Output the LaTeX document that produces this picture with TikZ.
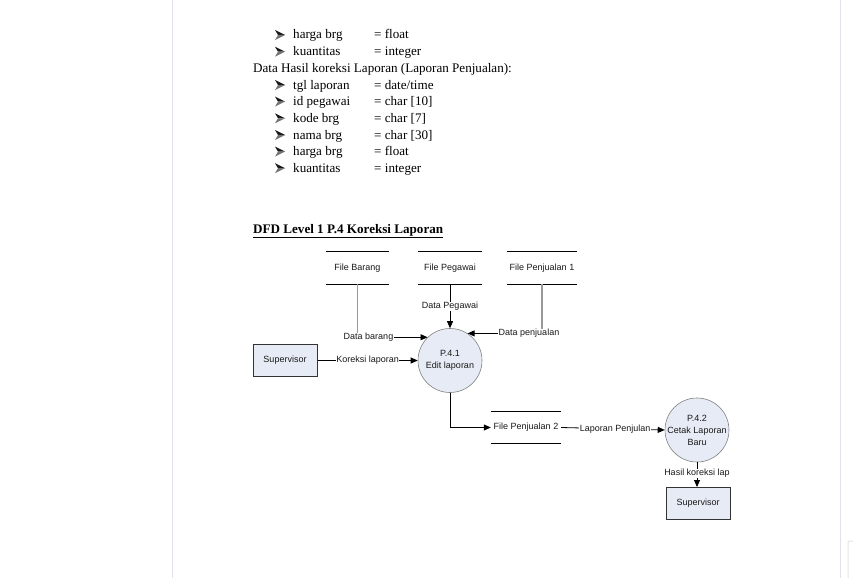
\documentclass[tikz,border=0pt]{standalone}
\usepackage{fontspec}
\setmainfont{Liberation Serif}
\setsansfont{Liberation Sans}
\usetikzlibrary{arrows.meta}
\definecolor{procfill}{HTML}{E7EBF5}
\definecolor{pageline}{HTML}{E2E2EC}
\begin{document}
\begin{tikzpicture}[x=1pt,y=-1pt,
  body/.style={font=\fontsize{13.1}{15}\selectfont, inner sep=0pt, anchor=base west},
  bul/.style={minimum width=10pt, minimum height=10pt, inner sep=0pt,
    path picture={
      \fill[black!90] (path picture bounding box.north west) -- (path picture bounding box.east)
        -- ([xshift=3pt]path picture bounding box.west) -- cycle;
      \fill[black!55] (path picture bounding box.south west) -- (path picture bounding box.east)
        -- ([xshift=3pt]path picture bounding box.west) -- cycle;}},
  dfd/.style={font=\sffamily\fontsize{9}{12}\selectfont, text=black!90},
  store/.style={dfd, minimum height=32pt, inner sep=0pt},
  storeline/.style={line width=1.1pt},
  proc/.style={circle, draw=black!50, fill=procfill, minimum size=64pt, inner sep=0pt, line width=0.6pt},
  ent/.style={dfd, draw=black!80, fill=procfill, minimum width=64pt, minimum height=32pt, inner sep=0pt, line width=1pt},
  flow/.style={line width=0.8pt, -{Triangle[length=7pt,width=6pt]}},
  grayline/.style={line width=1.4pt, draw=black!40},
  lbl/.style={dfd, fill=white, inner sep=0.5pt}
]
\fill[white] (0,0) rectangle (853,578);
\useasboundingbox (0,0) rectangle (853,578);
\draw[pageline, line width=1pt] (172,0) -- (172,578);
\draw[pageline, line width=1pt] (840,0) -- (840,578);
\draw[black!10, line width=1pt, rounded corners=2pt] (848,578) -- (848,541) -- (853,541);

% top list
\node[bul] (b1) at (280,35) {};
\node[body] (k1) at (293,39) {harga brg};
\node[body] (v1) at (374,39) {= float};
\node[bul] (b2) at (280,51.7) {};
\node[body] (k2) at (293,55.7) {kuantitas};
\node[body] (v2) at (374,55.7) {= integer};
\node[body] (hdr) at (253,72.3) {Data Hasil koreksi Laporan (Laporan Penjualan):};
\node[bul] (b3) at (280,85) {};
\node[body] (k3) at (293,89) {tgl laporan};
\node[body] (v3) at (374,89) {= date/time};
\node[bul] (b4) at (280,101.6) {};
\node[body] (k4) at (293,105.6) {id pegawai};
\node[body] (v4) at (374,105.6) {= char [10]};
\node[bul] (b5) at (280,118.3) {};
\node[body] (k5) at (293,122.3) {kode brg};
\node[body] (v5) at (374,122.3) {= char [7]};
\node[bul] (b6) at (280,135) {};
\node[body] (k6) at (293,139) {nama brg};
\node[body] (v6) at (374,139) {= char [30]};
\node[bul] (b7) at (280,151.6) {};
\node[body] (k7) at (293,155.6) {harga brg};
\node[body] (v7) at (374,155.6) {= float};
\node[bul] (b8) at (280,168.2) {};
\node[body] (k8) at (293,172.2) {kuantitas};
\node[body] (v8) at (374,172.2) {= integer};

\node[body, font=\bfseries\fontsize{13.1}{15}\selectfont] (title) at (253,233) {\underline{DFD Level 1 P.4 Koreksi Laporan}};

% DFD nodes
\node[store, minimum width=63pt] (fb) at (357.5,268) {File Barang};
\node[store, minimum width=64pt] (fp) at (450,268) {File Pegawai};
\node[store, minimum width=70pt] (fj1) at (542,268) {File Penjualan 1};
\node[store, minimum width=70pt] (fj2) at (526,427.5) {File Penjualan 2};
\foreach \n in {fb,fp,fj1,fj2}
  \draw[storeline] (\n.north west) -- (\n.north east) (\n.south west) -- (\n.south east);

\node[proc] (p41) at (450,360.5) {};
\node[dfd, align=center] (t41) at (p41) {P.4.1\\Edit laporan};
\node[proc] (p42) at (697,430) {};
\node[dfd, align=center] (t42) at (p42) {P.4.2\\Cetak Laporan\\Baru};
\node[ent] (sup1) at (285,360.5) {Supervisor};
\node[ent] (sup2) at (698,503.5) {Supervisor};

% flows
\draw[grayline] (fb.south) -- (fb.south |- p41.134);
\draw[flow] (fb.south |- p41.134) -- (p41.134);
\node[lbl] (lfb) at ([xshift=11pt]fb.south |- p41.134) {Data barang};

\draw[grayline] (fj1.south) -- (fj1.south |- p41.57);
\draw[flow] (fj1.south |- p41.57) -- (p41.57);
\node[lbl] (lfj1) at ([xshift=-13pt]fj1.south |- p41.57) {Data penjualan};

\draw[flow] (fp.south) -- node[lbl] (lfp) {Data Pegawai} (p41.north);

\draw[flow] (sup1.east) -- node[lbl, pos=0.5] (lkor) {Koreksi laporan} (p41.west);

\draw[flow] (p41.south) -- (p41.south |- fj2.west) -- (fj2.west);

\draw[flow] (fj2.east) -- node[lbl, pos=0.52] (llap) {Laporan Penjulan} (p42.west);

\draw[flow] (p42.south) -- node[lbl, pos=0.45] (lhas) {Hasil koreksi lap} (p42.south |- sup2.north);
\end{tikzpicture}
\end{document}
